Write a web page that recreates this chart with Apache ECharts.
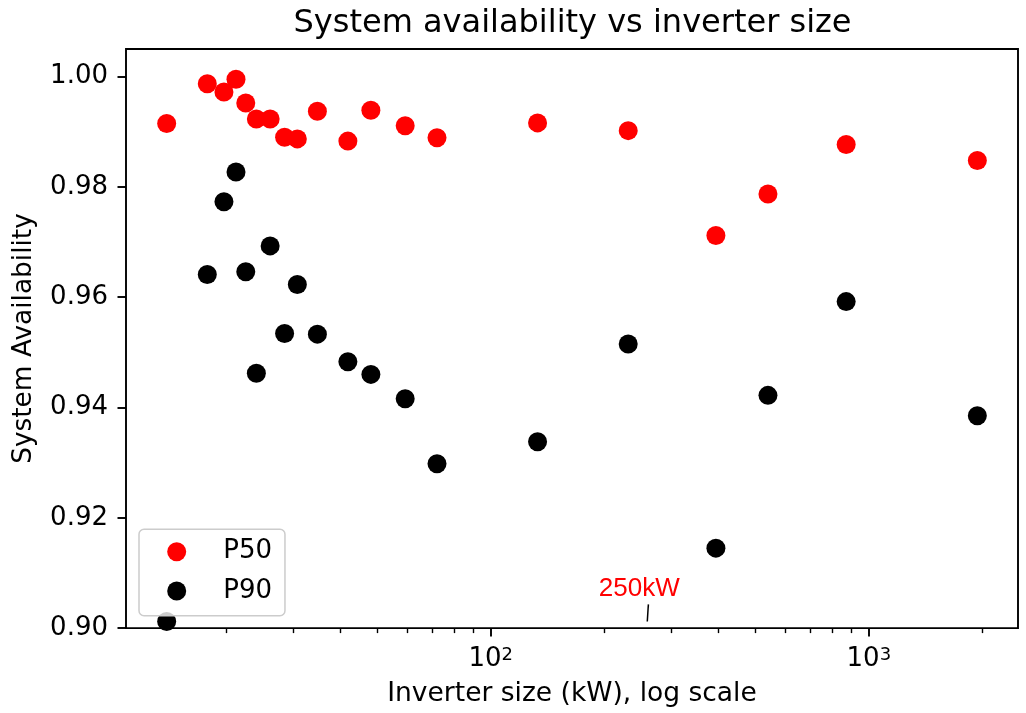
<!DOCTYPE html>
<html><head><meta charset="utf-8">
<script src="https://cdn.jsdelivr.net/npm/echarts@6/dist/echarts.min.js"></script>
<style>html,body{margin:0;padding:0;background:#fff}#c{width:1026px;height:713px}</style>
</head><body><div id="c"></div>
<script>
// Inverter sizes (kW) shared by both series
const inverterSizes = [13.9, 17.8, 19.7, 21.2, 22.5, 24.0, 26.1, 28.5, 30.8, 34.8, 41.9, 48.2, 59.4, 72.1, 133, 231, 394, 541, 871, 1936];
// P50 availability
const p50 = [0.9915, 0.9987, 0.9972, 0.9995, 0.9952, 0.9923, 0.9923, 0.9890, 0.9887, 0.9937, 0.9883, 0.9939, 0.9911, 0.9889, 0.9916, 0.9902, 0.9712, 0.9787, 0.9877, 0.9848];
// P90 availability
const p90 = [0.9012, 0.9641, 0.9773, 0.9827, 0.9646, 0.9462, 0.9693, 0.9534, 0.9623, 0.9533, 0.9483, 0.9460, 0.9416, 0.9298, 0.9338, 0.9515, 0.9145, 0.9422, 0.9592, 0.9385];
// axis ticks
const xMajorTicks = [100, 1000];
const xMinorTicks = [20, 30, 40, 50, 60, 70, 80, 90, 200, 300, 400, 500, 600, 700, 800, 900, 2000];
const yTicks = [0.90, 0.92, 0.94, 0.96, 0.98, 1.00];
// annotation
const annotationText = '250kW';
const annotationTextAt = [247, 0.9071];
const annotationLine = [[261.2, 0.9043], [259.4, 0.9012]];

const FONT = 'DejaVu Sans';
const xMin = 10.85, xMax = 2480, yMin = 0.90, yMax = 1.005;

const chart = echarts.init(document.getElementById('c'), null, {renderer: 'canvas'});
const zip = (xs, ys) => xs.map((x, i) => [x, ys[i]]);

chart.setOption({
  animation: false,
  backgroundColor: '#fff',
  title: {
    text: 'System availability vs inverter size',
    left: 567.5, top: 3, textAlign: 'center',
    textStyle: {fontFamily: FONT, fontSize: 32, fontWeight: 'normal', color: '#000'}
  },
  grid: {left: 126, top: 49, width: 892, height: 580.5, show: true, borderColor: '#000', borderWidth: 1.9, backgroundColor: 'transparent'},
  legend: {
    left: 139, top: 529.3, orient: 'vertical',
    data: ['P50', 'P90'],
    itemWidth: 19, itemHeight: 19, itemGap: 13.3,
    padding: [9.4, 13, 11.7, 28.2],
    backgroundColor: 'rgba(255,255,255,0.8)',
    borderColor: '#cccccc', borderWidth: 1.5, borderRadius: 5,
    textStyle: {fontFamily: FONT, fontSize: 26, color: '#000', padding: [0, 0, 0, 32]}
  },
  xAxis: [{
    type: 'log', logBase: 10, min: xMin, max: xMax,
    axisLine: {show: false}, splitLine: {show: false},
    axisTick: {show: true, customValues: xMajorTicks, length: 8.5, lineStyle: {color: '#000', width: 1.9}},
    axisLabel: {
      customValues: xMajorTicks, margin: 18,
      formatter: v => '{b|10}{s|' + Math.round(Math.log10(v)) + '}',
      rich: {
        b: {fontFamily: FONT, fontSize: 26, color: '#000', verticalAlign: 'bottom', lineHeight: 26},
        s: {fontFamily: FONT, fontSize: 18, color: '#000', verticalAlign: 'top', lineHeight: 26, padding: [0, 0, 12, 0]}
      }
    },
    name: 'Inverter size (kW), log scale', nameLocation: 'middle', nameGap: 50,
    nameTextStyle: {fontFamily: FONT, fontSize: 26.5, color: '#000'}
  }, {
    type: 'log', logBase: 10, min: xMin, max: xMax, position: 'bottom',
    axisLine: {show: false}, splitLine: {show: false}, axisLabel: {show: false},
    axisTick: {show: true, customValues: xMinorTicks, length: 5, lineStyle: {color: '#000', width: 1.4}}
  }],
  yAxis: {
    type: 'value', min: yMin, max: yMax,
    axisLine: {show: false}, splitLine: {show: false},
    axisTick: {show: true, customValues: yTicks, length: 8.5, lineStyle: {color: '#000', width: 1.9}},
    axisLabel: {customValues: yTicks, margin: 18, formatter: v => v.toFixed(2),
      fontFamily: FONT, fontSize: 26, color: '#000'},
    name: 'System Availability', nameLocation: 'middle', nameGap: 88.5, nameRotate: 90,
    nameTextStyle: {fontFamily: FONT, fontSize: 26.4, color: '#000'}
  },
  series: [{
    name: 'P50', type: 'scatter', symbol: 'circle', symbolSize: 19,
    itemStyle: {color: '#ff0000', opacity: 1}, data: zip(inverterSizes, p50), z: 2
  }, {
    name: 'P90', type: 'scatter', symbol: 'circle', symbolSize: 19,
    itemStyle: {color: '#000000', opacity: 1}, data: zip(inverterSizes, p90), z: 2
  }, {
    name: 'annotation', type: 'custom', coordinateSystem: 'cartesian2d', silent: true, z: 3,
    data: [[annotationTextAt[0], annotationTextAt[1]]],
    renderItem: (params, api) => {
      const t = api.coord(annotationTextAt);
      const a = api.coord(annotationLine[0]);
      const b = api.coord(annotationLine[1]);
      return {type: 'group', children: [
        {type: 'text', style: {text: annotationText, x: t[0], y: t[1], align: 'center', verticalAlign: 'middle',
          fontFamily: 'Liberation Sans', fontSize: 26, fill: '#ff0000'}},
        {type: 'line', shape: {x1: a[0], y1: a[1], x2: b[0], y2: b[1]}, style: {stroke: '#000', lineWidth: 1.5}}
      ]};
    }
  }]
});
</script></body></html>
